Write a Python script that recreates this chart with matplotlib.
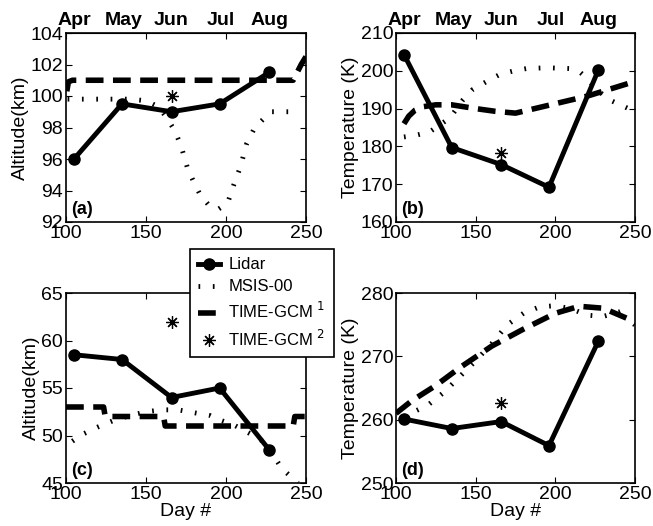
import matplotlib
matplotlib.use("Agg")
import matplotlib.pyplot as plt

plt.rcParams['font.family'] = ['Liberation Sans', 'DejaVu Sans']

# lidar measurement days and month labels
lidar_days = [105, 135, 166, 196, 227]
month_days = [105, 136, 166, 197, 227]
months = ['Apr', 'May', 'Jun', 'Jul', 'Aug']
star_day = 166

# (a) altitude, upper layer
a_lidar = [96.0, 99.5, 99.0, 99.5, 101.5]
a_star = 100.0
a_msis_x = [101, 110, 120, 130, 140, 150, 158, 163, 168, 172, 176, 180, 184, 189, 195, 201, 205, 209, 213, 218, 224, 228, 242]
a_msis_y = [99.8, 99.8, 99.8, 99.8, 99.8, 99.7, 99.3, 98.6, 97.8, 96.8, 95.4, 94.5, 93.7, 93.1, 92.8, 93.2, 94.4, 95.5, 97.0, 98.0, 98.6, 99.0, 99.0]
a_gcm_x = [100.5, 101.5, 104, 230, 242, 243, 247, 250]
a_gcm_y = [100.3, 100.9, 101.0, 101.0, 101.0, 101.2, 102.0, 102.5]

# (b) temperature, upper layer
b_lidar = [204.3, 179.7, 175.2, 169.2, 200.2]
b_star = 178.2
b_msis_x = [105, 113, 121, 132, 136, 142, 148, 157, 165, 174, 182, 195, 209, 215, 220, 226, 234, 248]
b_msis_y = [182.5, 183.0, 183.8, 187.0, 188.8, 192.3, 195.0, 197.2, 199.0, 200.0, 200.6, 200.8, 200.6, 199.8, 198.0, 195.0, 192.3, 189.6]
b_gcm_x = [105, 108, 112, 117, 125, 135, 150, 162, 175, 200, 220, 250]
b_gcm_y = [186.0, 188.0, 189.6, 190.5, 191.0, 191.0, 190.0, 189.3, 188.8, 191.3, 193.3, 197.2]

# (c) altitude, lower layer
c_lidar = [58.5, 58.0, 54.0, 55.0, 48.5]
c_star = 62.0
c_msis_x = [104, 110, 120, 130, 140, 150, 160, 170, 180, 190, 195, 205, 215, 225, 230, 235, 245]
c_msis_y = [49.4, 50.1, 50.9, 51.6, 52.1, 52.5, 52.7, 52.7, 52.4, 52.1, 51.7, 51.1, 50.2, 49.2, 47.8, 46.5, 45.0]
c_gcm_x = [100, 123.5, 124.5, 161, 162, 242, 243, 250]
c_gcm_y = [53, 53, 52, 52, 51, 51, 52, 52]

# (d) temperature, lower layer
d_lidar = [260.1, 258.6, 259.7, 255.9, 272.4]
d_star = 262.6
d_msis_x = [105, 120, 130, 140, 150, 160, 170, 180, 190, 200, 210, 220, 230, 240, 246]
d_msis_y = [260.5, 262.3, 264.3, 266.8, 269.3, 272.0, 275.0, 276.8, 277.8, 278.0, 277.5, 276.5, 276.3, 277.0, 277.6]
d_gcm_x = [100, 110, 125, 140, 160, 180, 200, 215, 230, 245, 250]
d_gcm_y = [261.0, 263.0, 265.4, 268.2, 271.6, 274.3, 276.8, 277.9, 277.6, 276.0, 275.0]

panels = [
    ('(a)', a_lidar, a_star, a_msis_x, a_msis_y, a_gcm_x, a_gcm_y, (92, 104), range(92, 105, 2), 'Altitude(km)'),
    ('(b)', b_lidar, b_star, b_msis_x, b_msis_y, b_gcm_x, b_gcm_y, (160, 210), range(160, 211, 10), 'Temperature (K)'),
    ('(c)', c_lidar, c_star, c_msis_x, c_msis_y, c_gcm_x, c_gcm_y, (45, 65), range(45, 66, 5), 'Altitude(km)'),
    ('(d)', d_lidar, d_star, d_msis_x, d_msis_y, d_gcm_x, d_gcm_y, (250, 280), range(250, 281, 10), 'Temperature (K)'),
]

W, H = 653, 526
boxes = [(66, 33, 306, 222), (396, 33, 635, 222), (66, 293, 306, 483), (396, 293, 635, 483)]

fig = plt.figure(figsize=(W / 100, H / 100), dpi=100)

handles = None
for i, (tag, lid, st, mx, my, gx, gy, ylim, yt, ylab) in enumerate(panels):
    l, t, r, b = boxes[i]
    ax = fig.add_axes([l / W, 1 - b / H, (r - l) / W, (b - t) / H])
    h1, = ax.plot(lidar_days, lid, 'k-o', lw=3.5, markersize=8, label='Lidar')
    h2, = ax.plot(mx, my, color='k', lw=3.5, dashes=(0.35, 2.6), label='MSIS-00')
    h3, = ax.plot(gx, gy, color='k', lw=4, dashes=(3.2, 1.7), label='TIME-GCM $^{1}$')
    h4, = ax.plot([star_day], [st], color='k', marker=(8, 2, 0), markersize=9,
                  markeredgewidth=0.9, linestyle='none', label='TIME-GCM $^{2}$')
    if handles is None:
        handles = [h1, h2, h3, h4]
    ax.set_xlim(100, 250)
    ax.set_ylim(*ylim)
    ax.set_xticks([100, 150, 200, 250])
    ax.set_yticks(list(yt))
    ax.tick_params(direction='in', length=4, width=0.8, labelsize=14,
                   top=True, right=True, pad=2)
    ax.set_ylabel(ylab, fontsize=14, labelpad=1)
    for s in ax.spines.values():
        s.set_linewidth(1.2)
    ax.text(0.02, 0.02, tag, transform=ax.transAxes, fontsize=13,
            fontweight='bold', ha='left', va='bottom')
    if i < 2:
        sec = ax.secondary_xaxis('top')
        sec.set_xticks(month_days)
        sec.set_xticklabels(months, fontsize=14, fontweight='bold')
        sec.tick_params(length=0, pad=3)
    else:
        ax.set_xlabel('Day #', fontsize=14, labelpad=0)

leg = fig.legend(handles=handles, loc='upper left',
                 bbox_to_anchor=(190 / W, 1 - 249 / H), fontsize=12,
                 frameon=True, fancybox=False, edgecolor='k', framealpha=1,
                 handlelength=1.3, handletextpad=0.5, labelspacing=0.42,
                 borderpad=0.5, borderaxespad=0)
leg.get_frame().set_linewidth(1.2)

fig.savefig('out.png', dpi=100)
